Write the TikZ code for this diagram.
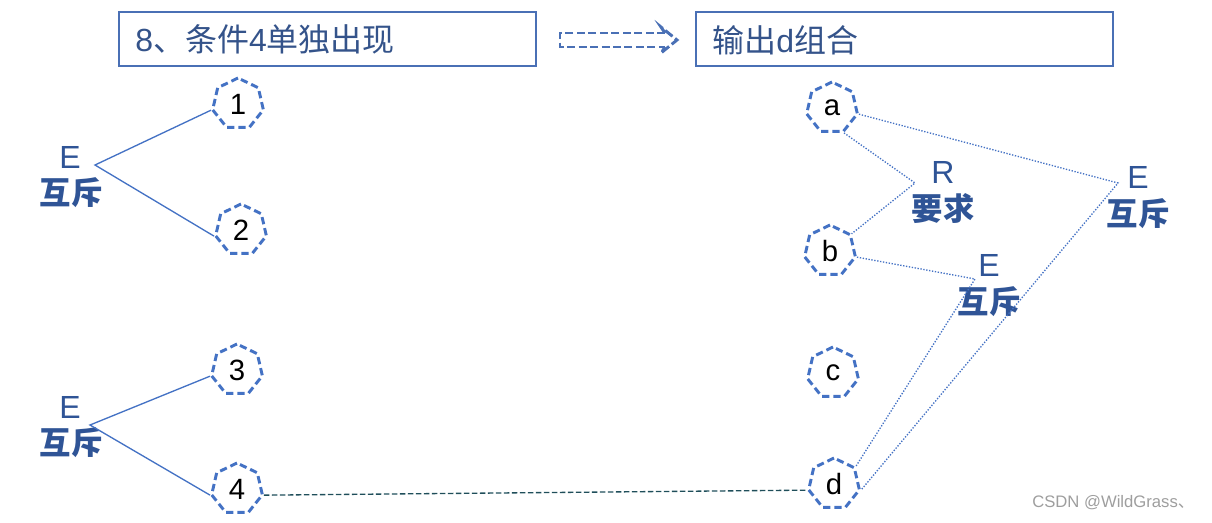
\documentclass[tikz,border=0pt]{standalone}
\usepackage{fontspec}
\setmainfont{Liberation Sans}
\newfontfamily\cjk{Noto Sans CJK SC}
\usetikzlibrary{shapes.geometric,arrows.meta}
\definecolor{boxblue}{HTML}{4A70B5}
\definecolor{hepblue}{HTML}{4472C4}
\definecolor{lineblue}{HTML}{4472C4}
\definecolor{txtblue}{HTML}{2F5496}
\definecolor{titletxt}{HTML}{34538A}
\definecolor{teal}{HTML}{1F4E5A}
\begin{document}
\begin{tikzpicture}[x=0.75pt,y=-0.75pt,
  hep/.style={regular polygon, regular polygon sides=7, minimum size=39pt, inner sep=0pt,
    draw=hepblue, line width=2.2pt, dash pattern=on 5.5pt off 3pt,
    font=\fontsize{22}{22}\selectfont, text=black},
  titlebox/.style={draw=boxblue, line width=1.1pt, minimum width=312.75pt, minimum height=40.5pt, inner sep=0pt},
  titletext/.style={text=titletxt, font=\fontsize{24}{24}\selectfont, inner sep=0pt, anchor=west},
  lbl/.style={text=txtblue, font=\fontsize{24}{24}\selectfont, inner sep=0pt},
  lblc/.style={text=txtblue, font=\cjk\bfseries\fontsize{23.5}{23.5}\selectfont, inner sep=0pt},
  solidln/.style={draw=lineblue, line width=1pt},
  dotln/.style={draw=lineblue, line width=1pt, dash pattern=on 1pt off 1.2pt},
  tealln/.style={draw=teal, line width=1pt, dash pattern=on 4pt off 2pt}]
\useasboundingbox (0,0) rectangle (1212,522);
% title boxes
\node[titlebox] (b1) at (327.5,39) {};
\node[titlebox] (b2) at (904.5,39) {};
\node[titletext] (t1) at (135,39) {8{\cjk 、条件}4{\cjk 单独出现}};
\node[titletext] (t2) at (712,40) {{\cjk 输出}d{\cjk 组合}};
% dashed outline arrow
\draw[boxblue, line width=2.2pt, dash pattern=on 6pt off 2.6pt, line join=miter]
  (665,33) -- (560,33) -- (560,47) -- (665,47);
\draw[boxblue, line width=2.2pt, dash pattern=on 7pt off 2.5pt, line join=miter]
  (665,33) -- (661,27) -- (677,40) -- (661,53) -- (665,47);
% heptagons
\node[hep] (n1) at (238,104) {1};
\node[hep] (n2) at (241,230) {2};
\node[hep] (n3) at (237,370) {3};
\node[hep] (n4) at (237,489) {4};
\node[hep] (na) at (832,108) {a};
\node[hep] (nb) at (830,251) {b};
\node[hep] (nc) at (833,373) {c};
\node[hep] (nd) at (834,484) {d};
% left labels
\node[lbl] (e1) at (70,157) {E};
\node[lblc] (h1) at (71,193) {互斥};
\node[lbl] (e2) at (70,407) {E};
\node[lblc] (h2) at (71,443) {互斥};
\coordinate (j1) at (95,165);
\coordinate (j2) at (90,425);
\draw[solidln] (n1.corner 3) -- (j1) -- (n2.corner 3);
\draw[solidln] (n3.corner 3) -- (j2) -- (n4.corner 3);
% right labels
\node[lbl] (er) at (943,172) {R};
\node[lblc] (hr) at (943,209) {要求};
\node[lbl] (ebig) at (1138,177) {E};
\node[lblc] (hbig) at (1138,214) {互斥};
\node[lbl] (emid) at (989,265) {E};
\node[lblc] (hmid) at (989,302) {互斥};
\coordinate (jr) at (915,183);
\coordinate (jbig) at (1118,183);
\coordinate (jmid) at (975,279);
\draw[dotln] (na.corner 5) -- (jr) -- (nb.corner 7);
\draw[dotln] (na.corner 6) -- (jbig) -- (nd.corner 6);
\draw[dotln] (nb.corner 6) -- (jmid) -- (nd.corner 7);
% teal dashed
\draw[tealln] (n4.corner 6) -- (nd.corner 3);
% watermark
\node[text=black!38, font=\fontsize{12.5}{12.5}\selectfont, anchor=west, inner sep=0pt] (wm) at (1032,503) {CSDN @WildGrass{\cjk 、}};
\end{tikzpicture}
\end{document}
